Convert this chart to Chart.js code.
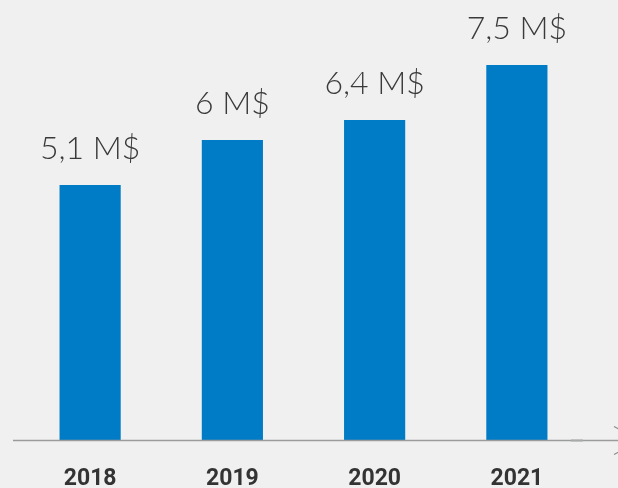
<!DOCTYPE html>
<html>
<head>
<meta charset="utf-8">
<script src="https://cdn.jsdelivr.net/npm/chart.js@4/dist/chart.umd.min.js"></script>
<style>
  html, body { margin: 0; padding: 0; background: #eff0ef; }
  #wrap { width: 618px; height: 488px; position: relative; }
</style>
</head>
<body>
<div id="wrap"><canvas id="revenueChart"></canvas></div>
<script>
const years = ['2018', '2019', '2020', '2021'];
const revenue = [5.1, 6, 6.4, 7.5];   // millions $

// Value labels above each bar ("5,1 M$")
const valueLabels = {
  id: 'valueLabels',
  afterDatasetsDraw(chart) {
    const ctx = chart.ctx;
    const meta = chart.getDatasetMeta(0);
    ctx.save();
    ctx.font = '300 32px Lato, "Open Sans", sans-serif';
    ctx.fillStyle = '#3a3a3a';
    ctx.textAlign = 'center';
    ctx.textBaseline = 'alphabetic';
    meta.data.forEach((bar, i) => {
      const txt = String(revenue[i]).replace('.', ',') + ' M$';
      ctx.fillText(txt, bar.x, bar.y - 26);
    });
    ctx.restore();
  }
};

// Baseline running past the bars, with the small arrow at the right edge
const baseline = {
  id: 'baseline',
  afterDatasetsDraw(chart) {
    const ctx = chart.ctx;
    const y = Math.round(chart.scales.y.getPixelForValue(0)) + 0.5;
    ctx.save();
    ctx.strokeStyle = '#9a9c9c';
    ctx.lineWidth = 1.5;
    ctx.beginPath();
    ctx.moveTo(13, y);
    ctx.lineTo(chart.width, y);
    ctx.stroke();
    ctx.strokeStyle = '#a8aaaa';
    ctx.lineWidth = 2;
    ctx.beginPath();
    ctx.moveTo(571, y);
    ctx.lineTo(583, y);
    ctx.stroke();
    ctx.strokeStyle = '#8a8c8c';
    ctx.lineWidth = 1.2;
    ctx.beginPath();
    ctx.moveTo(614, y - 14);
    ctx.lineTo(640, y);
    ctx.lineTo(614, y + 14);
    ctx.stroke();
    ctx.restore();
  }
};

new Chart(document.getElementById('revenueChart'), {
  type: 'bar',
  data: {
    labels: years,
    datasets: [{
      data: revenue,
      backgroundColor: '#007bc5',
      borderWidth: 0,
      barPercentage: 0.43,
      categoryPercentage: 1
    }]
  },
  options: {
    responsive: true,
    maintainAspectRatio: false,
    animation: false,
    layout: { padding: { left: 19, right: 30, top: 0, bottom: 0 } },
    plugins: { legend: { display: false }, tooltip: { enabled: false } },
    scales: {
      x: {
        grid: { display: false, drawTicks: false },
        border: { display: false },
        afterFit(scale) { scale.height = 48; },
        ticks: {
          color: '#333333',
          padding: 25,
          font: { family: 'Roboto', size: 23, weight: 'bold' }
        }
      },
      y: {
        display: false,
        min: 0,
        max: 8.8
      }
    }
  },
  plugins: [valueLabels, baseline]
});
</script>
</body>
</html>
